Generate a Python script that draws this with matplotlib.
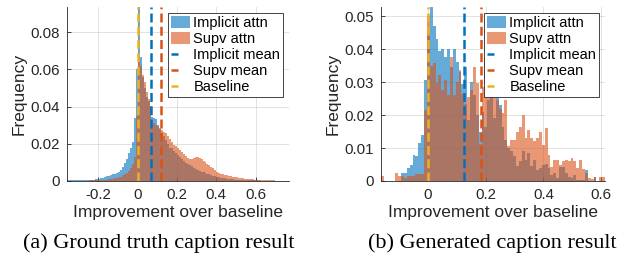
import numpy as np
import matplotlib.pyplot as plt
from matplotlib.patches import Patch
from matplotlib.lines import Line2D

plt.rcParams['font.family'] = ['Liberation Sans', 'DejaVu Sans']

implColor = '#0072BD'
supvColor = '#D95319'
baseColor = '#EDB120'
axisColor = '#262626'

# (a) ground truth captions: bins of 0.01 starting at -0.36
gtStart = -0.36
gtWidth = 0.01
gtImplicit = [
    0.0003, 0.0004, 0.0003, 0.0004, 0.0005, 0.0004, 0.0004, 0.0005, 0.0005, 0.0006, 0.0006, 0.0007, 0.0008, 0.0008,
    0.0009, 0.0011, 0.0012, 0.0015, 0.0018, 0.0020, 0.0025, 0.0028, 0.0030, 0.0035, 0.0040, 0.0045, 0.0050, 0.0060,
    0.0075, 0.0095, 0.0120, 0.0150, 0.0180, 0.0210, 0.0340, 0.0600,
    0.0935, 0.0667, 0.0560, 0.0500, 0.0450, 0.0430, 0.0400, 0.0345, 0.0340, 0.0335, 0.0300, 0.0280, 0.0260, 0.0240,
    0.0220, 0.0200,
    0.0180, 0.0175, 0.0160, 0.0150, 0.0140, 0.0130, 0.0120, 0.0108, 0.0098, 0.0092, 0.0086, 0.0078, 0.0071, 0.0065,
    0.0060, 0.0055, 0.0050, 0.0046, 0.0042, 0.0038, 0.0035, 0.0031, 0.0028, 0.0025, 0.0022, 0.0020, 0.0018, 0.0016,
    0.0014, 0.0012, 0.0011, 0.0010, 0.0009, 0.0008,
    0.0007, 0.0007, 0.0006, 0.0006, 0.0005, 0.0005, 0.0004, 0.0004, 0.0004, 0.0003, 0.0003, 0.0003, 0.0002, 0.0002,
    0.0002, 0.0002, 0.0001, 0.0001, 0.0001, 0.0001, 0.0001, 0.0001, 0.0001, 0.0001, 0.0001, 0.0001, 0.0001,
]
gtSupv = [
    0.0001, 0.0001, 0.0001, 0.0001, 0.0001, 0.0002, 0.0001, 0.0002, 0.0002, 0.0002, 0.0002, 0.0003, 0.0003, 0.0003,
    0.0003, 0.0004,
    0.0004, 0.0005, 0.0006, 0.0007, 0.0008, 0.0009, 0.0010, 0.0012, 0.0014, 0.0016, 0.0020, 0.0023, 0.0030, 0.0035,
    0.0045, 0.0055, 0.0070, 0.0090, 0.0130, 0.0350,
    0.0640, 0.0620, 0.0570, 0.0530, 0.0480, 0.0440, 0.0405, 0.0330, 0.0310, 0.0300, 0.0295, 0.0285, 0.0272, 0.0265,
    0.0260, 0.0240,
    0.0225, 0.0210, 0.0195, 0.0190, 0.0180, 0.0165, 0.0155, 0.0145, 0.0135, 0.0125, 0.0118, 0.0120, 0.0125, 0.0130,
    0.0130, 0.0125, 0.0118, 0.0110, 0.0100, 0.0092, 0.0085, 0.0077, 0.0068, 0.0060, 0.0050, 0.0045, 0.0040, 0.0037,
    0.0033, 0.0030, 0.0028, 0.0026, 0.0024, 0.0022,
    0.0020, 0.0018, 0.0016, 0.0014, 0.0013, 0.0012, 0.0011, 0.0010, 0.0009, 0.0008, 0.0007, 0.0006, 0.0006, 0.0005,
    0.0005, 0.0004, 0.0004, 0.0003, 0.0003, 0.0003, 0.0002, 0.0002, 0.0002, 0.0001, 0.0001, 0.0001, 0.0001,
]
gtImplicitMean = 0.066
gtSupvMean = 0.117
gtYTicks = [0, 0.02, 0.04, 0.06, 0.08]
gtYLabels = ['0', '0.02', '0.04', '0.06', '0.08']
gtXTicks = [-0.2, 0, 0.2, 0.4, 0.6]
gtXLabels = ['-0.2', '0', '0.2', '0.4', '0.6']

# (b) generated captions: bins of ~0.01 starting at -0.163
genStart = -0.163
genWidth = 0.00995
genImplicit = [
    0, 0, 0, 0, 0, 0, 0,
    0.0025, 0.0025, 0.0040, 0.0050, 0.0080, 0.0075, 0.0114, 0.0139,
    0.0306, 0.0450, 0.0530, 0.0470, 0.0430, 0.0395, 0.0400, 0.0375, 0.0400, 0.0347, 0.0400, 0.0360, 0.0330, 0.0295,
    0.0345, 0.0185, 0.0300, 0.0262, 0.0200, 0.0150, 0.0210,
    0.0165, 0.0245, 0.0265, 0.0190, 0.0255, 0.0230, 0.0165, 0.0125, 0.0100, 0.0090, 0.0075, 0.0045, 0.0060, 0.0090,
    0.0063, 0.0085, 0.0045, 0.0063, 0.0033, 0.0040, 0.0048, 0.0053, 0.0038, 0.0018, 0.0023, 0.0008, 0.0043, 0.0043,
    0.0023, 0.0013, 0.0008, 0.0018, 0.0003, 0.0003, 0.0003, 0.0033, 0, 0, 0.0013, 0, 0, 0,
]
genSupv = [
    0.0015, 0, 0, 0, 0, 0.0025, 0.0015, 0.0015, 0.0008, 0.0015, 0.0015, 0.0015, 0.0020, 0.0020, 0.0020,
    0.0215, 0.0500, 0.0350, 0.0357, 0.0297, 0.0321, 0.0276, 0.0306, 0.0261, 0.0376, 0.0260, 0.0300, 0.0337, 0.0265,
    0.0235, 0.0255, 0.0277, 0.0345, 0.0297, 0.0113, 0.0285,
    0.0375, 0.0287, 0.0260, 0.0260, 0.0245, 0.0220, 0.0205, 0.0245, 0.0105, 0.0125, 0.0125, 0.0150, 0.0165, 0.0200,
    0.0130, 0.0155, 0.0130, 0.0120, 0.0130, 0.0150, 0.0110, 0.0160, 0.0080, 0.0043, 0.0064, 0.0064, 0.0050, 0.0060,
    0.0064, 0.0060, 0.0069, 0.0060, 0.0040, 0.0064, 0.0035, 0.0023, 0.0010, 0.0005, 0.0013, 0, 0.0013, 0.0013,
]
genImplicitMean = 0.124
genSupvMean = 0.183
genYTicks = [0, 0.01, 0.02, 0.03, 0.04, 0.05]
genYLabels = ['0', '0.01', '0.02', '0.03', '0.04', '0.05']
genXTicks = [0, 0.2, 0.4, 0.6]
genXLabels = ['0', '0.2', '0.4', '0.6']

baselineValue = 0
legendLabels = ['Implicit attn', 'Supv attn', 'Implicit mean', 'Supv mean', 'Baseline']

W, H = 624, 263
fig = plt.figure(figsize=(W / 100, H / 100), dpi=100)


def panel(rect, start, width, impl, supv, implMean, supvMean, ylim, xticks, xlabels, yticks, ylabels):
    ax = fig.add_axes(rect)
    edges = start + width * np.arange(len(impl) + 1)
    ax.stairs(impl, edges, fill=True, color=implColor, alpha=0.6, lw=0, zorder=2)
    ax.stairs(supv, edges, fill=True, color=supvColor, alpha=0.6, lw=0, zorder=2)
    for xm, c in [(implMean, implColor), (supvMean, supvColor), (baselineValue, baseColor)]:
        ax.axvline(xm, color=c, lw=1.8, dashes=(3.6, 1.7), zorder=3)
    ax.set_xlim(edges[0], edges[-1])
    ax.set_ylim(*ylim)
    ax.set_xticks(xticks)
    ax.set_xticklabels(xlabels)
    ax.set_yticks(yticks)
    ax.set_yticklabels(ylabels)
    ax.grid(True, color=axisColor, alpha=0.15, lw=0.6)
    ax.set_axisbelow(True)
    for s in ['top', 'right']:
        ax.spines[s].set_visible(False)
    for s in ['left', 'bottom']:
        ax.spines[s].set_color(axisColor)
        ax.spines[s].set_linewidth(0.6)
    ax.tick_params(direction='in', length=3, width=0.6, color=axisColor, labelcolor=axisColor,
                   labelsize=10.8, pad=5)
    ax.set_xlabel('Improvement over baseline', fontsize=12.5, color=axisColor, labelpad=2)
    ax.set_ylabel('Frequency', fontsize=12.5, color=axisColor, labelpad=3)

    handles = [Patch(facecolor=implColor, alpha=0.6, lw=0),
               Patch(facecolor=supvColor, alpha=0.6, lw=0),
               Line2D([], [], color=implColor, lw=1.8, ls=(0, (2.8, 12))),
               Line2D([], [], color=supvColor, lw=1.8, ls=(0, (2.8, 12))),
               Line2D([], [], color=baseColor, lw=1.8, ls=(0, (2.8, 12)))]
    leg = ax.legend(handles, legendLabels, loc='upper right', fontsize=10.5, fancybox=False,
                    framealpha=1, edgecolor=axisColor, borderpad=0.2, labelspacing=0.12,
                    handlelength=1.3, handleheight=0.95, handletextpad=0.25, borderaxespad=0.4)
    leg.get_frame().set_linewidth(0.6)
    for t in leg.get_texts():
        t.set_color('black')
    return ax


panel([67 / W, 1 - 181 / H, (289 - 67) / W, (181 - 7) / H], gtStart, gtWidth, gtImplicit, gtSupv,
      gtImplicitMean, gtSupvMean, (0, 0.0935), gtXTicks, gtXLabels, gtYTicks, gtYLabels)
panel([381 / W, 1 - 181 / H, (605 - 381) / W, (181 - 7) / H], genStart, genWidth, genImplicit, genSupv,
      genImplicitMean, genSupvMean, (0, 0.0528), genXTicks, genXLabels, genYTicks, genYLabels)

fig.text(159 / W, 1 - 243 / H, '(a) Ground truth caption result', ha='center', va='center',
         family='Liberation Serif', fontsize=16)
fig.text(492 / W, 1 - 243 / H, '(b) Generated caption result', ha='center', va='center',
         family='Liberation Serif', fontsize=16)

fig.savefig('out.png', dpi=100)
